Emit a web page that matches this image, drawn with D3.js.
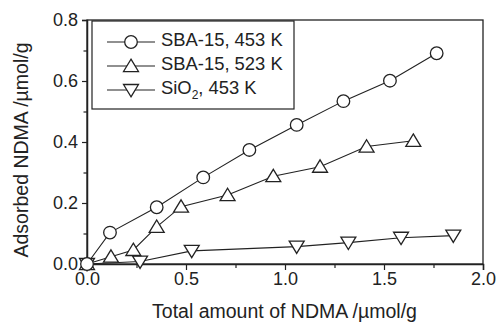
<!DOCTYPE html>
<html>
<head>
<meta charset="utf-8">
<script src="https://cdn.jsdelivr.net/npm/d3@7"></script>
<style>
  body { margin: 0; background: #fff; }
  text { font-family: "Liberation Sans", Arial, sans-serif; fill: #222; }
</style>
</head>
<body>
<svg id="chart" width="499" height="325"></svg>
<script>
// data
const sba453X = [0, 0.116, 0.352, 0.587, 0.82, 1.059, 1.295, 1.53, 1.766];
const sba453Y = [0, 0.103, 0.186, 0.284, 0.374, 0.456, 0.534, 0.601, 0.691];
const sba523X = [0, 0.121, 0.234, 0.352, 0.475, 0.71, 0.941, 1.177, 1.412, 1.648];
const sba523Y = [0, 0.024, 0.046, 0.122, 0.188, 0.226, 0.288, 0.319, 0.385, 0.404];
const sio2X = [0, 0.268, 0.529, 1.059, 1.32, 1.586, 1.85];
const sio2Y = [0, 0.008, 0.043, 0.057, 0.07, 0.086, 0.093];
const seriesNames = ["SBA-15, 453 K", "SBA-15, 523 K", "SiO2, 453 K"];
const xTicks = [0, 0.5, 1.0, 1.5, 2.0];
const yTicks = [0, 0.2, 0.4, 0.6, 0.8];

const series = [
  { name: seriesNames[0], shape: "circle", pts: sba453X.map((x, i) => [x, sba453Y[i]]) },
  { name: seriesNames[1], shape: "up", pts: sba523X.map((x, i) => [x, sba523Y[i]]) },
  { name: seriesNames[2], shape: "down", pts: sio2X.map((x, i) => [x, sio2Y[i]]) }
];

const margin = { top: 20, right: 16, bottom: 61, left: 87 };
const width = 499 - margin.left - margin.right;
const height = 325 - margin.top - margin.bottom;

const svg = d3.select("#chart");
const g = svg.append("g").attr("transform", `translate(${margin.left},${margin.top})`);

const x = d3.scaleLinear().domain([0, 2]).range([0, width]);
const y = d3.scaleLinear().domain([0, 0.8]).range([height, 0]);

// frame
g.append("rect").attr("width", width).attr("height", height)
  .attr("fill", "none").attr("stroke", "#222").attr("stroke-width", 1.3);

// axes (ticks outward), minor ticks shorter
g.append("g").attr("transform", `translate(0,${height})`)
  .call(d3.axisBottom(x).tickValues(xTicks).tickFormat(d3.format(".1f")).tickSize(6).tickPadding(2));
g.append("g").attr("transform", `translate(0,${height})`)
  .call(d3.axisBottom(x).tickValues([0.25, 0.75, 1.25, 1.75]).tickFormat("").tickSize(4))
  .select(".domain").remove();
g.append("g")
  .call(d3.axisLeft(y).tickValues(yTicks).tickFormat(d3.format(".1f")).tickSize(5).tickPadding(4));
g.append("g")
  .call(d3.axisLeft(y).tickValues([0.1, 0.3, 0.5, 0.7]).tickFormat("").tickSize(3.5))
  .select(".domain").remove();

g.selectAll(".domain").attr("stroke", "#222").attr("stroke-width", 1.5);
g.selectAll(".tick line").attr("stroke", "#222").attr("stroke-width", 1.2);
g.selectAll(".tick text").style("font-size", "18px").attr("fill", "#222");

// axis titles
svg.append("text")
  .attr("x", margin.left + width / 2 - 0.5).attr("y", 318)
  .attr("text-anchor", "middle").style("font-size", "19.5px")
  .text("Total amount of NDMA /\u00b5mol/g");
svg.append("text")
  .attr("transform", `translate(28,150) rotate(-90)`)
  .attr("text-anchor", "middle").style("font-size", "19.5px")
  .text("Adsorbed NDMA /\u00b5mol/g");

// marker drawing
function marker(sel, shape) {
  if (shape === "circle") {
    sel.append("circle").attr("r", 6.3);
  } else {
    const s = shape === "up" ? 1 : -1;
    const h = 6.5;
    sel.append("path").attr("d", `M0,${-s * h * 1.05} L${h * 1.15},${s * h * 0.85} L${-h * 1.15},${s * h * 0.85} Z`);
  }
  sel.selectAll("circle, path").attr("fill", "#fff").attr("stroke", "#222").attr("stroke-width", 1.3);
}

const line = d3.line().x(d => x(d[0])).y(d => y(d[1]));

series.forEach(s => {
  g.append("path").datum(s.pts).attr("d", line)
    .attr("fill", "none").attr("stroke", "#222").attr("stroke-width", 1.1);
});
series.slice().reverse().forEach(s => {
  g.selectAll(null).data(s.pts).enter().append("g")
    .attr("transform", d => `translate(${x(d[0])},${y(d[1])})`)
    .each(function () { marker(d3.select(this), s.shape); });
});

// legend
const leg = g.append("g").attr("transform", "translate(5,1)");
leg.append("rect").attr("width", 202).attr("height", 88)
  .attr("fill", "#fff").attr("stroke", "#222").attr("stroke-width", 1.2);
series.forEach((s, i) => {
  const row = leg.append("g").attr("transform", `translate(0,${21 + i * 24})`);
  row.append("line").attr("x1", 15).attr("x2", 63)
    .attr("stroke", "#222").attr("stroke-width", 1.1);
  const m = row.append("g").attr("transform", "translate(39,0)");
  marker(m, s.shape);
  const t = row.append("text").attr("x", 69).attr("y", 4).style("font-size", "18.4px");
  if (s.name.startsWith("SiO2")) {
    t.append("tspan").text("SiO");
    t.append("tspan").attr("dy", 5).style("font-size", "12px").text("2");
    t.append("tspan").attr("dy", -5).text(", 453 K");
  } else {
    t.text(s.name);
  }
});
</script>
</body>
</html>
